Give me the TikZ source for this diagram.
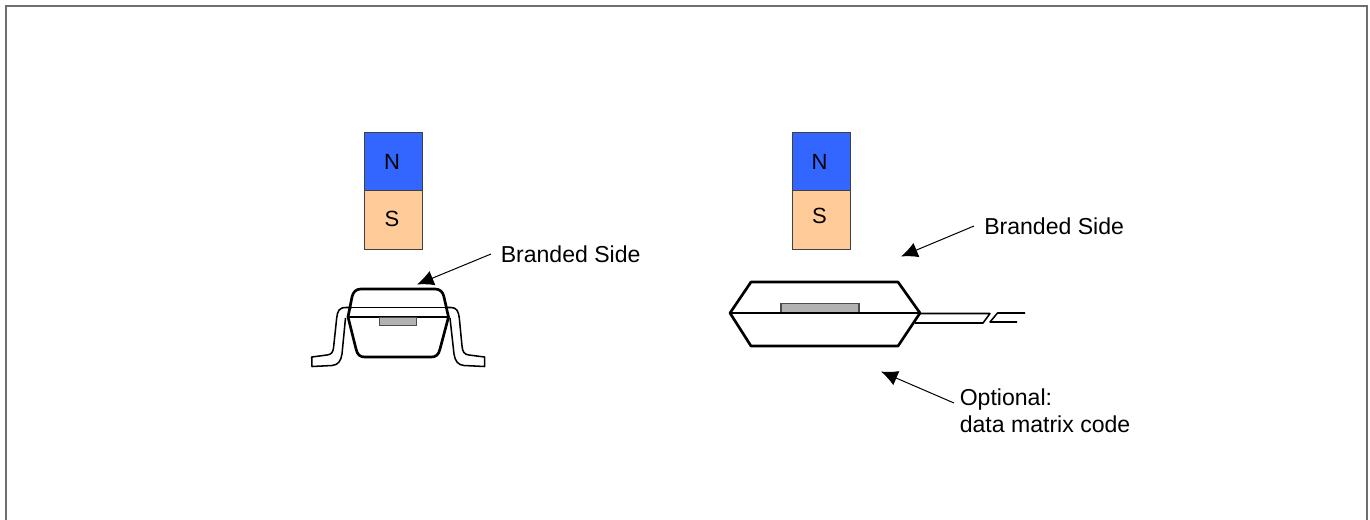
\documentclass[tikz,border=0pt]{standalone}
\usepackage{fontspec}
\setmainfont{Liberation Sans}
\usetikzlibrary{arrows.meta}
\definecolor{nblue}{RGB}{51,102,255}
\definecolor{speach}{RGB}{255,204,153}
\definecolor{chipgray}{RGB}{178,178,178}
\definecolor{framegray}{RGB}{110,110,110}
\tikzset{
  pole/.style={draw=black!75,line width=0.8pt,minimum width=43.6pt,minimum height=43.8pt,inner sep=0pt},
  poletext/.style={inner sep=0pt,font=\fontsize{16.5}{18}\selectfont},
  lab/.style={inner sep=0pt,anchor=base west,font=\fontsize{17.3}{20}\selectfont},
  pointer/.style={line width=0.75pt,-{Latex[length=12.5pt,width=11.5pt]}},
  body/.style={line width=2pt,line join=round},
  thinlead/.style={line width=1.15pt,line join=round},
  chip/.style={draw=black!70,line width=0.8pt,fill=chipgray,inner sep=0pt}
}
\begin{document}
\begin{tikzpicture}[x=0.75pt,y=-0.75pt]
\useasboundingbox (0,0) rectangle (1370,519);
% frame (open at the bottom)
\draw[framegray,line width=1.1pt] (6,530) -- (6,6) -- (1367,6) -- (1367,530);
% left magnet
\node[pole,fill=nblue] (n1) at (393.2,161.5) {};
\node[poletext] (nt1) at (392,161.5) {N};
\node[pole,fill=speach] (s1) at (393.2,220) {};
\node[poletext] (st1) at (392,219) {S};
% right magnet
\node[pole,fill=nblue] (n2) at (821.2,161.5) {};
\node[poletext] (nt2) at (819.5,161.5) {N};
\node[pole,fill=speach] (s2) at (821.2,220) {};
\node[poletext] (st2) at (819.5,216) {S};
% left package leads
\draw[thinlead,fill=white] (352,307.5) -- (346,307.5) .. controls (339,307.5) and (337.5,311) .. (336.7,318) -- (333.5,348) .. controls (333,352) and (331.5,354.5) .. (327,355) -- (311.7,357) -- (312,366.5) -- (332,365.5) .. controls (338,365) and (341,361) .. (342,354) -- (345.5,318);
\draw[thinlead,fill=white] (445,307.5) -- (451,307.5) .. controls (456.5,307.5) and (458.5,311) .. (459.3,318) -- (462,346) .. controls (462.5,352) and (464.5,354.5) .. (469,355) -- (484.5,357) -- (484.7,366.5) -- (464,365.5) .. controls (458,365) and (455,361) .. (454,354) -- (450,318);
\draw[thinlead] (349,307.5) -- (447,307.5);
% left package body
\draw[body] (348,317) -- (352,297) .. controls (353,292) and (356,289) .. (361,289) -- (435,289) .. controls (440,289) and (443,292) .. (444,297) -- (448.5,317) -- (440,349) .. controls (438.5,355) and (436,357) .. (431,357) -- (365,357) .. controls (360,357) and (357.5,355) .. (356,349) -- cycle;
\draw[line width=1.1pt] (348,317) -- (448.5,317);
\node[chip,minimum width=27.5pt,minimum height=6.6pt] (c1) at (398,321.5) {};
% right package leads
\draw[thinlead] (915,323) -- (983,323) -- (990,313.5) -- (920,313.5);
\draw[thinlead] (1017,322) -- (990,322) -- (997.5,313) -- (1025,313);
% right package body
\node[chip,minimum width=58.5pt,minimum height=7.3pt] (c2) at (820,308.3) {};
\draw[body] (730,313) -- (751,282) -- (898,282) -- (920,313) -- (898,346) -- (751,346) -- cycle;
\draw[line width=1.5pt] (730,313) -- (920,313);
% labels
\node[lab] (b1) at (500.5,262) {Branded Side};
\node[lab] (b2) at (984,234) {Branded Side};
\node[lab] (o1) at (959.5,405.5) {Optional:};
\node[lab] (o2) at (959.5,432) {data matrix code};
% pointers
\coordinate (t1) at (417,284.5);
\coordinate (t2) at (901,256.5);
\coordinate (t3) at (881,371.5);
\coordinate (f1) at (491,254);
\coordinate (f2) at (974,226);
\coordinate (f3) at (954,403);
\draw[pointer] (f1) -- (t1);
\draw[pointer] (f2) -- (t2);
\draw[pointer] (f3) -- (t3);
\end{tikzpicture}
\end{document}
